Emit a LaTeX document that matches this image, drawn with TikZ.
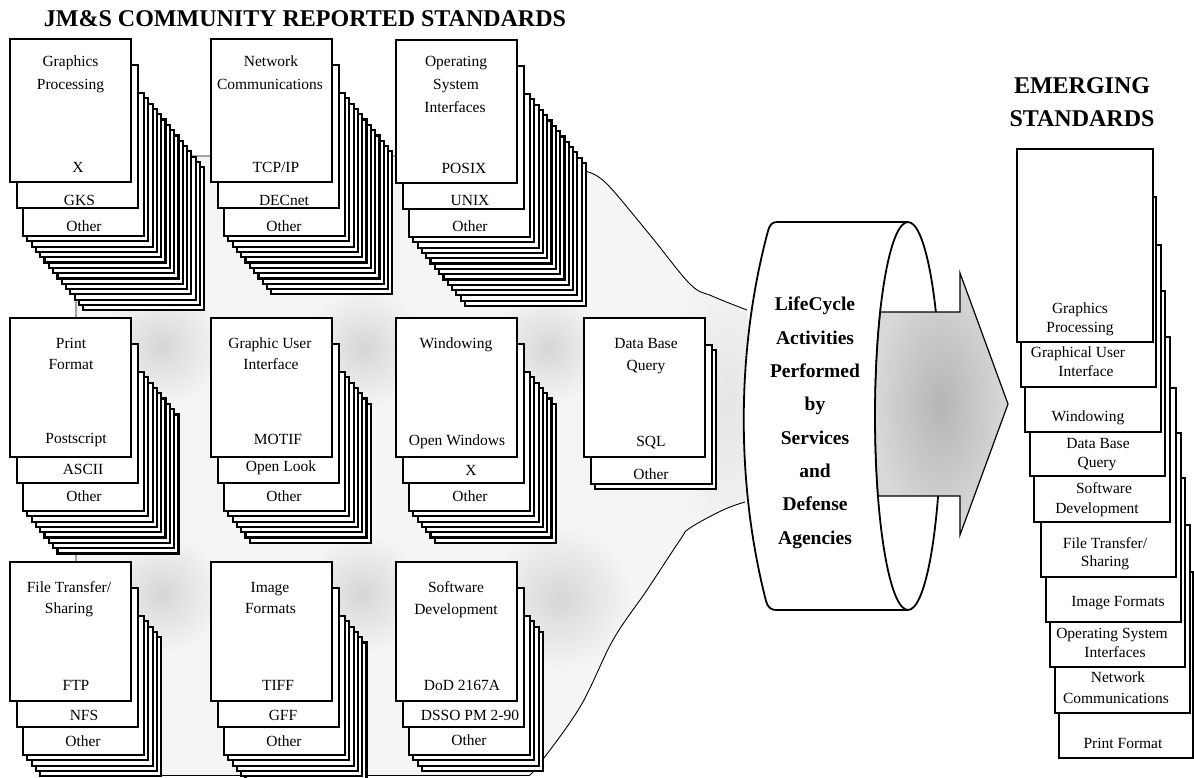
\documentclass[tikz,border=0pt]{standalone}
\usepackage{fontspec}
\setmainfont{Liberation Serif}

% a stack of sheets: #1,#2 = top-left of the front sheet, #3 = sheet height,
% #4 = number of plain sheets behind the two labelled ones
\newcommand\pagestack[4]{%
  \foreach \k in {#4,...,1}{\filldraw[page] ({#1+13+4.3*\k},{#2+54+5.3*\k}) rectangle ++(121,#3);}
  \filldraw[page] ({#1+13},{#2+54}) rectangle ++(121,#3);
  \filldraw[page] ({#1+7},{#2+26}) rectangle ++(121,#3);
  \filldraw[page] (#1,#2) rectangle ++(121,#3);}

\begin{document}
\begin{tikzpicture}[x=1pt, y=-1pt,
  page/.style={fill=white, draw=black, line width=2.2pt},
  lastpage/.style={fill=white, draw=black, line width=1.2pt},
  lbl/.style={anchor=base, inner sep=0pt, font=\fontsize{15.5}{18}\selectfont},
  heading/.style={anchor=base, inner sep=0pt, font=\fontsize{24}{28}\selectfont\bfseries},
  ringtext/.style={anchor=base, inner sep=0pt, font=\fontsize{19.5}{22}\selectfont\bfseries},
  haze/.style={fill=gray!8},
  funneledge/.style={draw=black, line width=0.9pt},
  cloud/.style={inner color=gray!32, outer color=gray!8},
]
\useasboundingbox (0,0) rectangle (1194,777);
\fill[white] (0,0) rectangle (1194,777);

% ---------- grey funnel behind the sheet stacks ----------
\fill[haze] (76,775.5) -- (76,156) -- (540,156) -- (588,172)
  -- plot[smooth, tension=0.6] coordinates {(588,172) (607,184) (650,235) (690,284) (712,296) (747,310)}
  -- (762,406)
  -- plot[smooth, tension=0.6] coordinates {(745,502) (723,510) (690,528) (680,540) (647,590) (613,640) (580,707) (537,767) (528,775.5)}
  -- cycle;
\begin{scope}
  \clip (76,775.5) -- (76,156) -- (540,156) -- (588,172)
    -- plot[smooth, tension=0.6] coordinates {(588,172) (607,184) (650,235) (690,284) (712,296) (747,310)}
    -- (762,406)
    -- plot[smooth, tension=0.6] coordinates {(745,502) (723,510) (690,528) (680,540) (647,590) (613,640) (580,707) (537,767) (528,775.5)}
    -- cycle;
  \shade[cloud] (162,346) circle[radius=60];
  \shade[cloud] (364,348) circle[radius=60];
  \shade[cloud] (548,348) circle[radius=56];
  \shade[cloud] (162,594) circle[radius=60];
  \shade[cloud] (362,594) circle[radius=60];
  \shade[cloud] (560,598) circle[radius=72];
  \shade[inner color=gray!20, outer color=gray!8] (728,405) ellipse[x radius=60, y radius=150];
\end{scope}
\draw[funneledge] (76,775.5) -- (76,156) -- (540,156) -- (588,172)
  -- plot[smooth, tension=0.6] coordinates {(588,172) (607,184) (650,235) (690,284) (712,296) (747,310)};
\draw[funneledge]
  plot[smooth, tension=0.6] coordinates {(745,502) (723,510) (690,528) (680,540) (647,590) (613,640) (580,707) (537,767) (528,775.5)}
  -- (76,775.5);

% ---------- reported standards: top row ----------
\pagestack{10}{39}{143}{14}
\node[lbl] (gp1) at (70.5,66.5) {Graphics};
\node[lbl] (gp2) at (70.5,89.5) {Processing};
\node[lbl] (gpx) at (78,172.5) {X};
\node[lbl] (gpa) at (79.5,205.5) {GKS};
\node[lbl] (gpb) at (84,231) {Other};

\pagestack{211}{39}{143}{11}
\node[lbl] (nc1) at (271,66.5) {Network};
\node[lbl] (nc2) at (270,89.5) {Communications};
\node[lbl] (ncx) at (276,172.5) {TCP/IP};
\node[lbl] (nca) at (284,205.5) {DECnet};
\node[lbl] (ncb) at (284,231) {Other};

\pagestack{396}{40}{143}{13}
\node[lbl] (os1) at (456,66.5) {Operating};
\node[lbl] (os2) at (456,89.5) {System};
\node[lbl] (os3) at (455,112.5) {Interfaces};
\node[lbl] (osx) at (464,173) {POSIX};
\node[lbl] (osa) at (470,205.5) {UNIX};
\node[lbl] (osb) at (470,231) {Other};

% ---------- middle row ----------
\pagestack{10}{318}{139}{8}
\node[lbl] (pf1) at (71,348) {Print};
\node[lbl] (pf2) at (71,369.5) {Format};
\node[lbl] (pfx) at (76,443.5) {Postscript};
\node[lbl] (pfa) at (83,474.5) {ASCII};
\node[lbl] (pfb) at (84,501.5) {Other};

\pagestack{211}{318}{139}{6}
\node[lbl] (gu1) at (270,348) {Graphic User};
\node[lbl] (gu2) at (271,369.5) {Interface};
\node[lbl] (gux) at (278,444) {MOTIF};
\node[lbl] (gua) at (281,471) {Open Look};
\node[lbl] (gub) at (284,501.5) {Other};

\pagestack{396}{318}{139}{6}
\node[lbl] (wi1) at (456,348) {Windowing};
\node[lbl] (wix) at (457,445) {Open Windows};
\node[lbl] (wia) at (471,475) {X};
\node[lbl] (wib) at (470,501.5) {Other};

% data base query: two labelled sheets and one behind
\filldraw[page] (595.3,350.3) rectangle ++(121,139);
\filldraw[page] (591,345) rectangle ++(121,139);
\filldraw[page] (584,318) rectangle ++(121,139);
\node[lbl] (db1) at (646,348.5) {Data Base};
\node[lbl] (db2) at (646,370.5) {Query};
\node[lbl] (dbx) at (651,446.5) {SQL};
\node[lbl] (dba) at (651,479) {Other};

% ---------- bottom row ----------
\pagestack{10}{562}{139}{4}
\node[lbl] (ft1) at (69,592) {File Transfer/};
\node[lbl] (ft2) at (69,613.5) {Sharing};
\node[lbl] (ftx) at (76,690) {FTP};
\node[lbl] (fta) at (84,720) {NFS};
\node[lbl] (ftb) at (83,746.5) {Other};

\pagestack{211}{562}{139}{5}
\node[lbl] (if1) at (270,592) {Image};
\node[lbl] (if2) at (270.5,613.5) {Formats};
\node[lbl] (ifx) at (278,690) {TIFF};
\node[lbl] (ifa) at (283,720) {GFF};
\node[lbl] (ifb) at (284,746.5) {Other};

\pagestack{396}{562}{139}{3}
\node[lbl] (sd1) at (456,592.5) {Software};
\node[lbl] (sd2) at (456,614) {Development};
\node[lbl] (sdx) at (462,690.5) {DoD 2167A};
\node[lbl] (sda) at (470,720) {DSSO PM 2-90};
\node[lbl] (sdb) at (469,745.5) {Other};

% ---------- ring with the arrow leaving it ----------
% (y grows downwards, so angle 90 is the bottom of an ellipse, -90 its top)
\filldraw[fill=white, draw=black, line width=1.8pt]
  (908,222) -- (777,222) .. controls (772,222) and (769.6,225) .. (768,231)
  .. controls (736,350) and (736,484) .. (766,601)
  .. controls (767.5,606.9) and (771,610) .. (776,610)
  -- (908,610) arc[start angle=90, end angle=-90, x radius=33, y radius=194] -- cycle;
\shadedraw[inner color=gray!58, outer color=gray!30, draw=black, line width=1.2pt]
  (880.1,312) -- (960,312) -- (960,273) -- (1008,404) -- (960,535) -- (960,496)
  -- (877.9,496) arc[start angle=155.6, end angle=212.4, x radius=33, y radius=194] -- cycle;
\draw[line width=1.8pt] (908,222) arc[start angle=270, end angle=90, x radius=33, y radius=194];
\foreach \w [count=\i from 0] in {LifeCycle,Activities,Performed,by,Services,and,Defense,Agencies}
  \node[ringtext] (ring\i) at (815,{310.7+33.33*\i}) {\w};

% ---------- emerging standards ----------
\filldraw[lastpage] (1059,572) rectangle (1193,758);
\filldraw[page] (1055,525) rectangle (1190,713);
\filldraw[page] (1050,478) rectangle (1185,667);
\filldraw[page] (1046,433) rectangle (1181,622);
\filldraw[page] (1041,388) rectangle (1176,577);
\filldraw[page] (1034,337) rectangle (1170,522);
\filldraw[page] (1030,291) rectangle (1165,476);
\filldraw[page] (1025,245) rectangle (1161,432);
\filldraw[page] (1021,197) rectangle (1156,387);
\filldraw[page] (1017,149) rectangle (1153,342);
\node[lbl] (e1a) at (1080,313.3) {Graphics};
\node[lbl] (e1b) at (1080,332.3) {Processing};
\node[lbl] (e2a) at (1078,357.3) {Graphical User};
\node[lbl] (e2b) at (1086,376.7) {Interface};
\node[lbl] (e3a) at (1088,421.7) {Windowing};
\node[lbl] (e4a) at (1098,448.3) {Data Base};
\node[lbl] (e4b) at (1097,467.3) {Query};
\node[lbl] (e5a) at (1104,493.3) {Software};
\node[lbl] (e5b) at (1097,513.3) {Development};
\node[lbl] (e6a) at (1105,548.3) {File Transfer/};
\node[lbl] (e6b) at (1105,566.7) {Sharing};
\node[lbl] (e7a) at (1118,606.7) {Image Formats};
\node[lbl] (e8a) at (1112,638.3) {Operating System};
\node[lbl] (e8b) at (1115,657.3) {Interfaces};
\node[lbl] (e9a) at (1118,682.7) {Network};
\node[lbl] (e9b) at (1116,703.3) {Communications};
\node[lbl] (e10a) at (1123,748.3) {Print Format};

% ---------- headings ----------
\node[heading] (title) at (305,26) {JM\&S COMMUNITY REPORTED STANDARDS};
\node[heading] (em1) at (1082,93) {EMERGING};
\node[heading] (em2) at (1082,126) {STANDARDS};
\end{tikzpicture}
\end{document}
